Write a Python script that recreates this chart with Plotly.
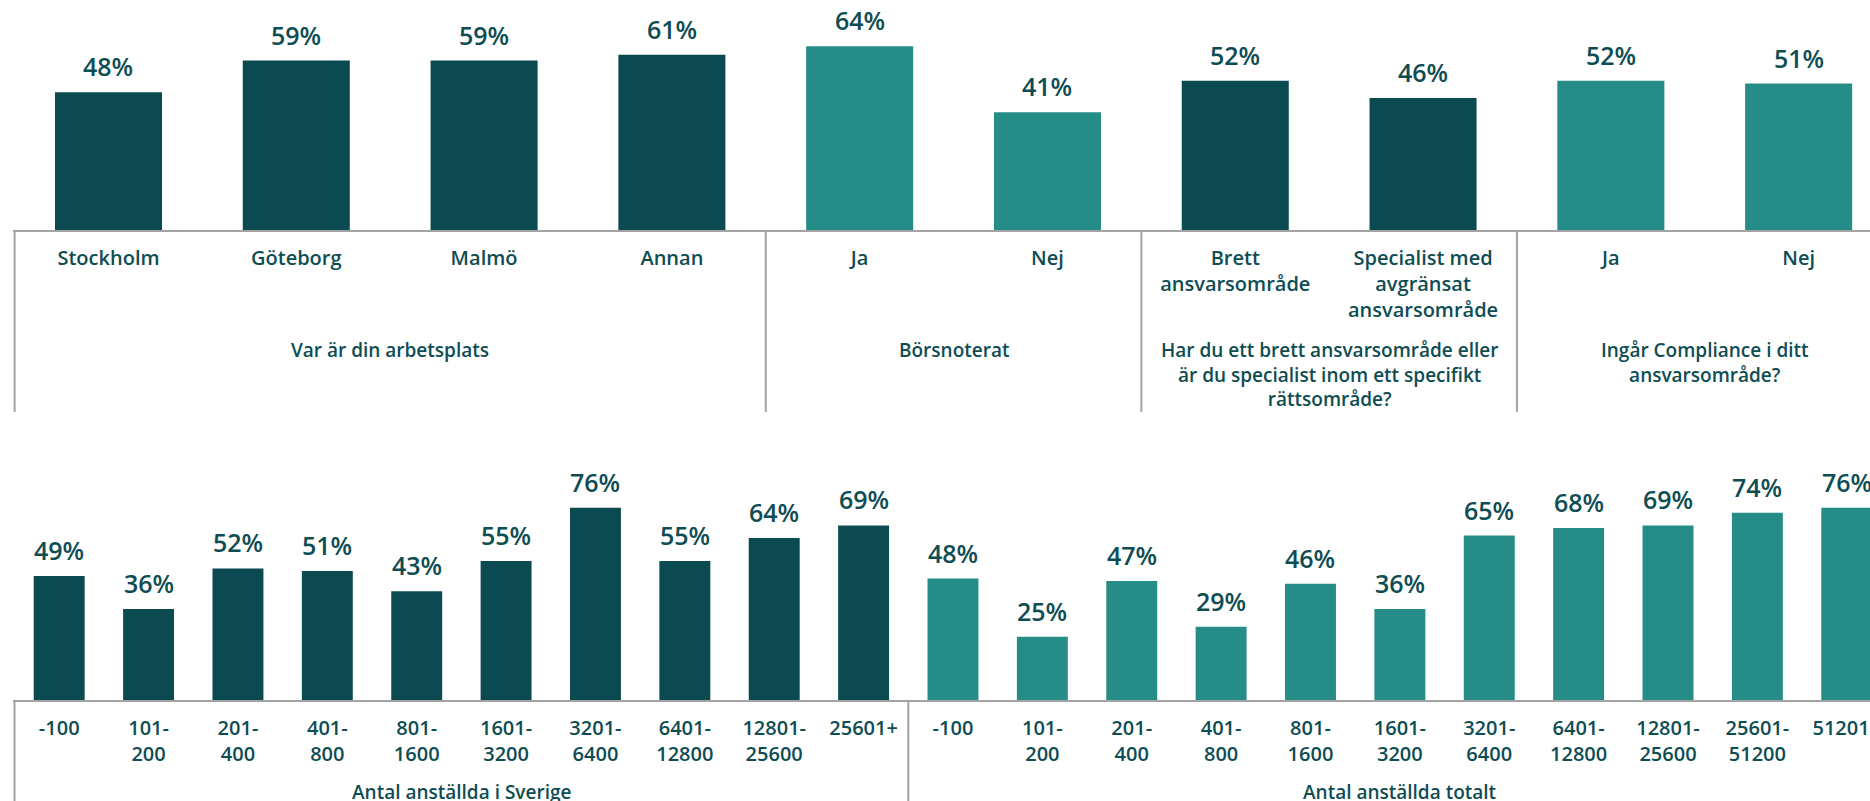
import plotly.graph_objects as go

DARK = "#0B4A50"
LIGHT = "#268C88"
TEXT = "#0E4D53"
LINE = "#A3A3A3"
FONT = "Open Sans"

# top panel: groups, categories and values
top_groups = [
    "Var är din arbetsplats",
    "Börsnoterat",
    "Har du ett brett ansvarsområde eller<br>är du specialist inom ett specifikt<br>rättsområde?",
    "Ingår Compliance i ditt<br>ansvarsområde?",
]
top_cats = [
    ["Stockholm", "Göteborg", "Malmö", "Annan"],
    ["Ja", "Nej"],
    ["Brett<br>ansvarsområde", "Specialist med<br>avgränsat<br>ansvarsområde"],
    ["Ja", "Nej"],
]
top_vals = [
    [48, 59, 59, 61],
    [64, 41],
    [52, 46],
    [52, 51],
]
top_colors = [DARK, LIGHT, DARK, LIGHT]

# bottom panel
bottom_groups = ["Antal anställda i Sverige", "Antal anställda totalt"]
sverige_cats = ["-100", "101-<br>200", "201-<br>400", "401-<br>800", "801-<br>1600",
                "1601-<br>3200", "3201-<br>6400", "6401-<br>12800", "12801-<br>25600", "25601+"]
sverige_vals = [49, 36, 52, 51, 43, 55, 76, 55, 64, 69]
totalt_cats = ["-100", "101-<br>200", "201-<br>400", "401-<br>800", "801-<br>1600",
               "1601-<br>3200", "3201-<br>6400", "6401-<br>12800", "12801-<br>25600",
               "25601-<br>51200", "51201+"]
totalt_vals = [48, 25, 47, 29, 46, 36, 65, 68, 69, 74, 76]
bottom_colors = [DARK, LIGHT]


def add_panel(fig, groups, cats, vals, colors, xa, ya, dom_bottom, sep_bottom, title_y):
    pos = 0
    tickvals, ticktext = [], []
    seps = [-0.5]
    for g, c, v, col in zip(groups, cats, vals, colors):
        xs = list(range(pos, pos + len(c)))
        fig.add_trace(go.Bar(x=xs, y=v, width=0.57, marker=dict(color=col, line=dict(width=0)),
                             xaxis=xa, yaxis=ya, showlegend=False, hoverinfo="y"))
        for x, val in zip(xs, v):
            fig.add_annotation(x=x, y=val, xref=xa, yref=ya, text=f"{val}%", showarrow=False,
                               yanchor="bottom", yshift=7,
                               font=dict(size=25, color=TEXT, family=FONT, weight=600))
        fig.add_annotation(x=(xs[0] + xs[-1]) / 2, y=title_y, xref=xa, yref="paper", text=g,
                           showarrow=False, yanchor="top",
                           font=dict(size=19, color=TEXT, family=FONT, weight=600))
        tickvals += xs
        ticktext += c
        pos += len(c)
        seps.append(pos - 0.5)
    for s in seps:
        fig.add_shape(type="line", xref=xa, yref="paper", x0=s, x1=s, y0=dom_bottom, y1=sep_bottom,
                      line=dict(color=LINE, width=2))
    return tickvals, ticktext


fig = go.Figure()
top_tv, top_tt = add_panel(fig, top_groups, top_cats, top_vals, top_colors,
                           "x", "y", 0.7129, 0.4857, 0.5818)
bot_tv, bot_tt = add_panel(fig, bottom_groups, [sverige_cats, totalt_cats],
                           [sverige_vals, totalt_vals], bottom_colors,
                           "x2", "y2", 0.1261, -0.05, 0.030)

axis_common = dict(showline=True, linecolor=LINE, linewidth=2, ticks="", showgrid=False,
                   zeroline=False, ticklabelstandoff=9, automargin=False,
                   ticklabeloverflow="allow",
                   tickfont=dict(size=20, color=TEXT, family=FONT, weight=600))

fig.update_layout(
    width=1870, height=801,
    margin=dict(l=0, r=0, t=0, b=0, autoexpand=False),
    paper_bgcolor="white", plot_bgcolor="white",
    font=dict(family=FONT, color=TEXT),
    xaxis=dict(domain=[0.0068, 1], range=[-0.51, 9.38], anchor="y",
               tickvals=top_tv, ticktext=top_tt, **axis_common),
    yaxis=dict(domain=[0.7129, 1], range=[0, 80.1], visible=False, automargin=False),
    xaxis2=dict(domain=[0.0068, 1], range=[-0.52, 20.26], anchor="y2",
                tickvals=bot_tv, ticktext=bot_tt, **axis_common),
    yaxis2=dict(domain=[0.1261, 0.4507], range=[0, 102.8], visible=False, automargin=False),
)

# drop the default page margin so the figure sits at the window's corner
fig.write_html("out.html", config={"displayModeBar": False},
               post_script="document.body.style.margin='0';")
